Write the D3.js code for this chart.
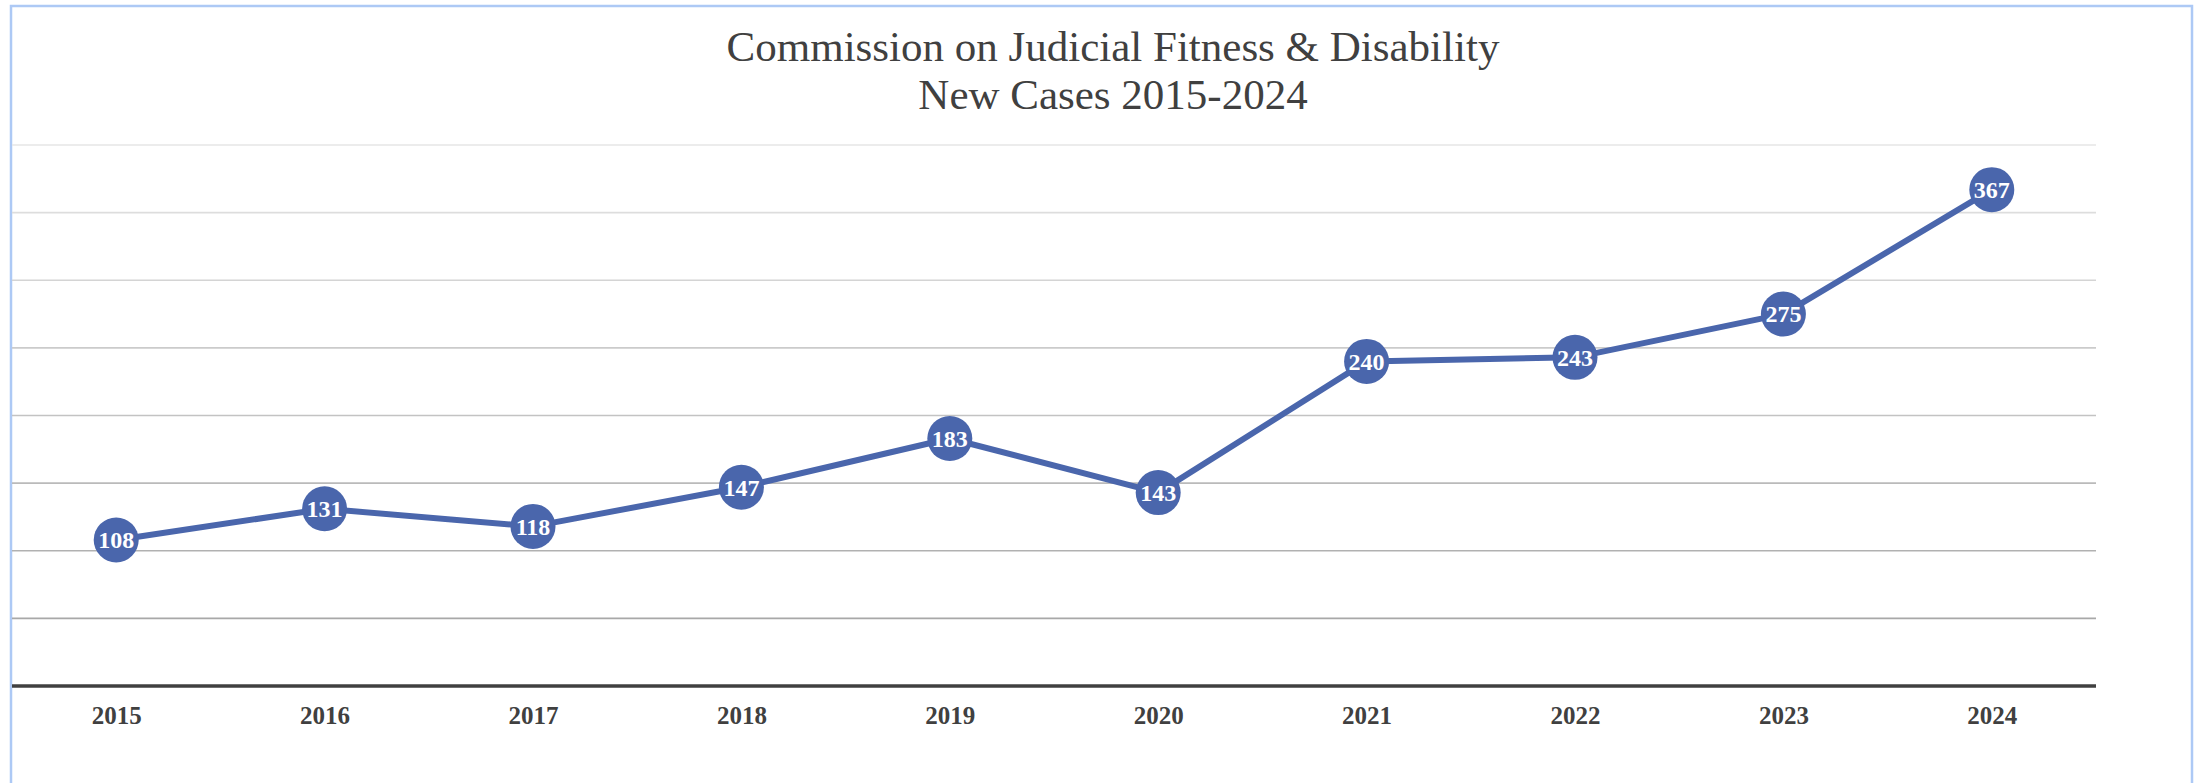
<!DOCTYPE html>
<html>
<head>
<meta charset="utf-8">
<script src="https://cdn.jsdelivr.net/npm/d3@7"></script>
<style>
    html, body { margin: 0; padding: 0; background: #fff; }
    svg { display: block; }
</style>
</head>
<body>
<div id="chart"></div>
<script>
// Datos del gráfico
const years = ['2015', '2016', '2017', '2018', '2019', '2020', '2021', '2022', '2023', '2024'];
const newCases = [108, 131, 118, 147, 183, 143, 240, 243, 275, 367];
const gridValues = [50, 100, 150, 200, 250, 300, 350, 400];
const titleLines = ['Commission on Judicial Fitness & Disability', 'New Cases 2015-2024'];

const width = 2196;
const height = 783;
const lineColor = '#4a66ac';
const textColor = '#404040';
const serif = '"Liberation Serif", "Times New Roman", serif';

const svg = d3.select('#chart')
    .append('svg')
    .attr('width', width)
    .attr('height', height);

// Marco exterior
svg.append('rect')
    .attr('x', 11)
    .attr('y', 6)
    .attr('width', 2181)
    .attr('height', 800)
    .attr('fill', 'none')
    .attr('stroke', '#adc9f5')
    .attr('stroke-width', 2.5);

// Escalas
const x = d3.scalePoint()
    .domain(years)
    .range([12, 2096])
    .padding(0.5);

const y = d3.scaleLinear()
    .domain([0, 400])
    .range([686, 145]);

// Líneas de cuadrícula (más claras arriba, más oscuras abajo)
const gridColor = d3.scaleLinear()
    .domain([50, 400])
    .range(['#a8a8a8', '#e6e6e6']);

svg.append('g')
    .selectAll('line')
    .data(gridValues)
    .enter()
    .append('line')
    .attr('x1', 12)
    .attr('x2', 2096)
    .attr('y1', d => y(d))
    .attr('y2', d => y(d))
    .attr('stroke', d => gridColor(d))
    .attr('stroke-width', 1.6);

// Eje X
const xAxis = svg.append('g')
    .attr('transform', `translate(0,${y(0)})`)
    .call(d3.axisBottom(x).tickSize(0).tickPadding(20));

xAxis.select('.domain')
    .attr('d', 'M12,0H2096')
    .attr('stroke', textColor)
    .attr('stroke-width', 3.5);

xAxis.selectAll('text')
    .attr('font-family', serif)
    .attr('font-weight', 'bold')
    .attr('font-size', 25)
    .attr('fill', textColor);

// Línea de la serie
const points = years.map((yr, i) => ({ year: yr, value: newCases[i] }));

svg.append('path')
    .datum(points)
    .attr('fill', 'none')
    .attr('stroke', lineColor)
    .attr('stroke-width', 6)
    .attr('stroke-linejoin', 'round')
    .attr('d', d3.line()
        .x(d => x(d.year))
        .y(d => y(d.value)));

// Marcadores con etiquetas
const marker = svg.append('g')
    .selectAll('g')
    .data(points)
    .enter()
    .append('g')
    .attr('transform', d => `translate(${x(d.year)},${y(d.value)})`);

marker.append('circle')
    .attr('r', 22.5)
    .attr('fill', lineColor);

marker.append('text')
    .attr('text-anchor', 'middle')
    .attr('dy', '0.35em')
    .attr('font-family', serif)
    .attr('font-weight', 'bold')
    .attr('font-size', 24)
    .attr('fill', '#ffffff')
    .text(d => d.value);

// Título
svg.append('g')
    .selectAll('text')
    .data(titleLines)
    .enter()
    .append('text')
    .attr('x', 1113)
    .attr('y', (d, i) => 61 + i * 48)
    .attr('text-anchor', 'middle')
    .attr('font-family', serif)
    .attr('font-size', 43)
    .attr('fill', textColor)
    .text(d => d);
</script>
</body>
</html>
